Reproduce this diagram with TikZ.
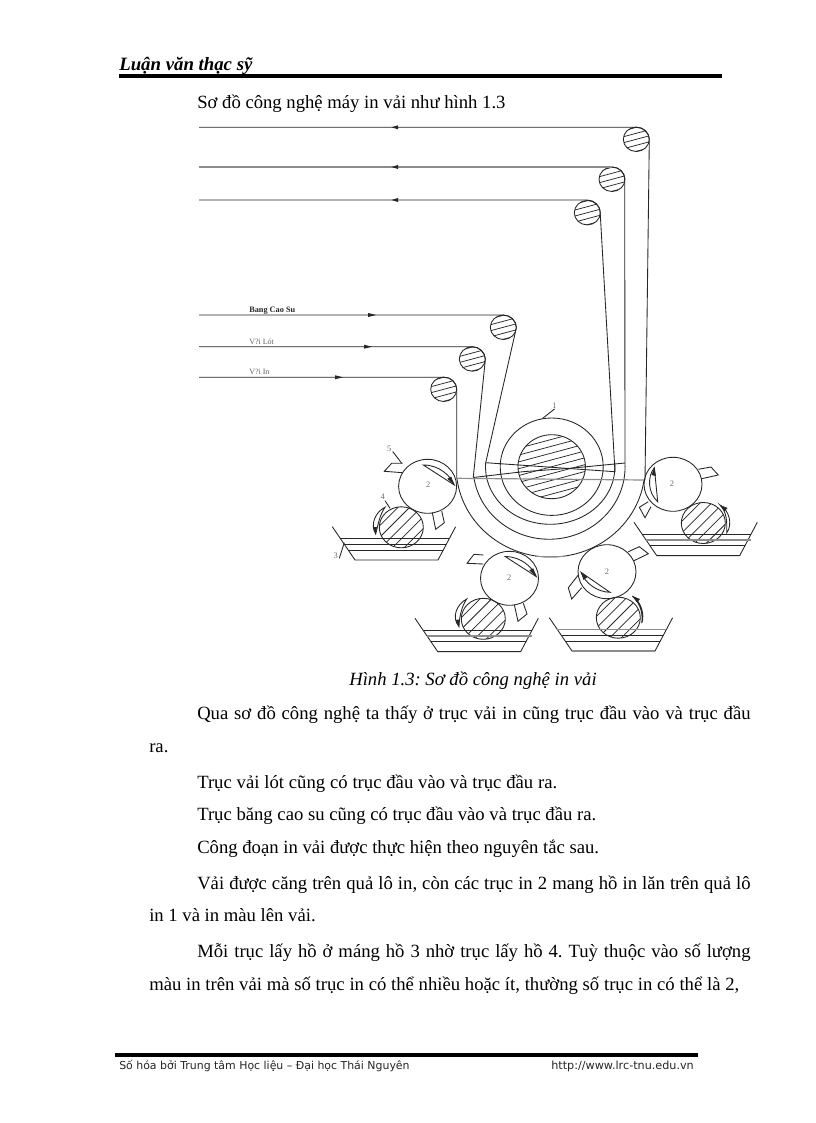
\documentclass[tikz,border=0pt]{standalone}
\usepackage{fontspec}
\setmainfont{Liberation Serif}
\newfontfamily\footfont{DejaVu Sans}
\usetikzlibrary{arrows.meta}
\definecolor{ink}{gray}{0.15}
\definecolor{soft}{gray}{0.55}
\tikzset{
  line/.style={draw=ink,line width=0.65pt},
  softline/.style={draw=soft,line width=0.9pt},
  hatch/.style={draw=ink,line width=0.55pt},
  body/.style={anchor=base west,inner sep=0pt,font=\fontsize{14pt}{16pt}\selectfont,text=black},
  tiny/.style={anchor=base,inner sep=0pt,font=\fontsize{6.3pt}{7pt}\selectfont,text=soft!70!ink},
  wee/.style={anchor=base west,inner sep=0pt,font=\fontsize{6pt}{7pt}\selectfont,text=soft!60!ink},
  foot/.style={anchor=base west,inner sep=0pt,font=\footfont\fontsize{8.2pt}{9pt}\selectfont,text=ink},
  tipfill/.style={fill=ink,draw=none},
}
% hatched ellipse: x,y,rx,ry,angle,spacing
\newcommand{\hroll}[6]{%
  \begin{scope}
    \clip (#1,#2) ellipse [x radius=#3,y radius=#4];
    \foreach \k in {-7,...,7}{
      \draw[hatch,shift={(#1,#2)},rotate=#5] (-80,\k*#6) -- (80,\k*#6);
    }
  \end{scope}
  \draw[line] (#1,#2) ellipse [x radius=#3,y radius=#4];
}
\newcommand{\wedgeL}[2]{\fill[tipfill] (#1-3.5,#2) -- (#1+3,#2-2) -- (#1+3,#2+2) -- cycle;}
\newcommand{\wedgeR}[2]{\fill[tipfill] (#1+4,#2) -- (#1-4,#2-2) -- (#1-4,#2+2) -- cycle;}
\frenchspacing
\begin{document}
\begin{tikzpicture}[x=0.75pt,y=-0.75pt]
\useasboundingbox (0,0) rectangle (816,1123);
\fill[white] (0,0) rectangle (816,1123);

% header
\node[body,font=\fontsize{14.1pt}{16pt}\selectfont\bfseries\itshape] (title) at (119,71) {Luận văn thạc sỹ};
\draw[line width=2.3pt,black] (119,76) -- (722,76);
\node[body] (intro) at (197,109) {Sơ đồ công nghệ máy in vải như hình 1.3};

% top three rollers
\hroll{636.3}{139.3}{13}{12.2}{15}{5.8}
\hroll{612}{179.3}{13}{12.2}{15}{5.8}
\hroll{587.3}{212.7}{13}{12.2}{15}{5.8}
\draw[line] (199,127.3) -- (636,127.3) .. controls (643,127.3) and (649,132) .. (649.3,140) -- (645,480);
\draw[softline] (199,167) -- (612,167);
\draw[line] (612,167) .. controls (619,167) and (624.5,172) .. (624.7,180) -- (625,463);
\draw[line] (199,200) -- (587,200) .. controls (594,200) and (600,205) .. (600.2,213) -- (615,472);
\wedgeL{395}{127.3}\wedgeL{395}{167}\wedgeL{395}{200}

% three incoming rollers
\hroll{503.3}{327.3}{13}{12.2}{15}{5.8}
\hroll{472.3}{359}{13}{12.2}{15}{5.8}
\hroll{443.7}{389.3}{13}{12.2}{15}{5.8}
\draw[line] (199,315) -- (503,315) .. controls (510,315) and (516,320) .. (516.3,328) -- (485.7,462.7);
\draw[line] (199,346.7) -- (472,346.7) .. controls (479,346.7) and (485,352) .. (485.3,360) -- (473.3,477);
\draw[line] (199,377.3) -- (444,377.3) .. controls (451,377.3) and (456.5,382) .. (456.7,390) -- (456.7,478.3);
\wedgeR{372}{315}\wedgeR{368}{346.7}\wedgeR{339}{377.3}
\node[wee,font=\fontsize{6.2pt}{7pt}\selectfont\bfseries,text=ink] (lblbelt) at (249,312.5) {Bang Cao Su};
\node[wee] (lbllot) at (249,344) {V?i Lót};
\node[wee] (lblin) at (249,374.5) {V?i In};

% main drum
\draw[line] (551.7,466.7) ellipse [x radius=51.5,y radius=48.7];
\hroll{551.7}{466.7}{33.7}{32}{15}{6.6}

% wrap arcs
\draw[line] (485.7,462.7) arc [start angle=184.3,end angle=-5,x radius=64.7,y radius=57.3];
\draw[line] (473.8,477) arc [start angle=172,end angle=-3,x radius=76,y radius=72.3];
\draw[line] (456.9,478.3) arc [start angle=173,end angle=8,x radius=94.4,y radius=89.7];
\draw[softline] (535,556.7) -- (565,556.7);

% cross lines
\draw[line] (485.7,462.7) -- (615,471.7);
\draw[line] (473.3,477.5) -- (523,471.7) -- (570,468.3) -- (625,463);
\draw[softline] (456.7,478.3) -- (645,480);

% print rollers
\draw[line] (427.6,486.3) ellipse [x radius=29,y radius=27];
\draw[line] (509.5,578.3) ellipse [x radius=29,y radius=27];
\draw[line] (607,571.7) ellipse [x radius=29,y radius=27];
\draw[line] (673,484.3) ellipse [x radius=29,y radius=27];

% paste rollers
\hroll{401.3}{527.3}{22}{20.5}{45}{8.2}
\hroll{483.3}{618.8}{22}{20.5}{45}{8.2}
\hroll{618.3}{617.7}{22}{20.5}{45}{8.2}
\hroll{703.3}{523}{22}{20.5}{45}{8.2}

% blades left roller
\draw[line] (402.7,463.3) -- (391.7,463.3) -- (384.3,471.3) -- (402.7,472.7);
\draw[line] (432.3,512.7) -- (435.7,529.3) -- (444.3,522.7) -- (441.7,511);
% blades bottom-left roller
\draw[line] (483.3,555) -- (474,554.3) -- (467,563.3) -- (483.3,564);
\draw[line] (514.3,604.7) -- (518,621.3) -- (527,614) -- (523.3,603.3);
% blades bottom-right roller
\draw[line] (628.3,551.7) -- (639.3,546.7) -- (648.3,553.7) -- (634,560.7);
\draw[line] (578.3,575) -- (568.3,587.7) -- (571.7,599) -- (581.7,587.7);
% blades right roller
\draw[line] (698.3,469.3) -- (711,467) -- (718.3,475) -- (701.7,478.7);
\draw[line] (648.3,501.7) -- (639.3,507.3) -- (645,517.7) -- (651,506.7);

% crescent arrows on print rollers
\newcommand{\crescR}[2]{%
  \draw[line] (#1-4,#2-21.7) .. controls (#1+12,#2-22) and (#1+24,#2-10) .. (#1+27,#2-1.7) -- cycle;
  \fill[tipfill] (#1+27,#2-1.7) -- (#1+20,#2-8) -- (#1+24,#2-10) -- cycle;}
\crescR{427.3}{486.7}
\crescR{509.3}{578.3}
\draw[line] (654.3,467.7) .. controls (647,477) and (648,493) .. (657.7,501.7) -- cycle;
\fill[tipfill] (654.3,467.7) -- (651.5,475) -- (656,476) -- cycle;
\draw[line] (581,572.3) .. controls (585,583) and (597,592) .. (610,592.3) -- cycle;
\fill[tipfill] (581,572.3) -- (583.5,580) -- (587.5,577) -- cycle;

% crescent arrows on paste rollers
\draw[line] (385,507.3) .. controls (375,512) and (370,525) .. (375.7,534) .. controls (378,525) and (380,514) .. (385,507.3) -- cycle;
\fill[tipfill] (375.7,534) -- (372.8,527) -- (377,527) -- cycle;
\draw[line] (466.7,599) .. controls (457,604) and (451,617) .. (459,626.7) .. controls (459,620) and (461,607) .. (466.7,599) -- cycle;
\fill[tipfill] (459,626.7) -- (455.3,620) -- (459.5,619.5) -- cycle;
\draw[line] (632.3,596) .. controls (641,601) and (645,615) .. (641.7,623.3) .. controls (643,614) and (641,604) .. (632.3,596) -- cycle;
\fill[tipfill] (632.3,596) -- (640,599) -- (637,602.5) -- cycle;
\draw[line] (720,505) .. controls (729,510) and (733,524) .. (726.7,533) .. controls (727,522) and (727,512) .. (720,505) -- cycle;
\fill[tipfill] (720,505) -- (727.5,508) -- (724.5,511.5) -- cycle;

% trays: left x, top y
\newcommand{\tray}[2]{%
  \draw[line] (#1,#2) -- (#1+22.7,#2+33.3) -- (#1+105.7,#2+33.3) -- (#1+123.3,#2);
  \draw[line] (#1+8,#2+11.7) -- (#1+117.1,#2+11.7);
  \draw[line] (#1+12,#2+17.7) -- (#1+113.9,#2+17.7);
  \draw[line] (#1+16,#2+23.3) -- (#1+111,#2+23.3);
}
\tray{332.3}{526.7}
\tray{415}{618.3}
\tray{549.3}{617.7}
\tray{634}{522.3}
% grey tray levels
\draw[softline] (427,636) -- (532,636);
\draw[softline] (557.3,629.4) -- (666.4,629.4);
\draw[softline] (572,651) -- (655,651);
\draw[softline] (646,540) -- (751,540);

% numbers and leaders
\node[tiny] (n1) at (554.5,408) {1};
\coordinate (l1a) at (554.5,409);
\coordinate (l1b) at (542.7,418.3);
\draw[line] (l1a) -- (l1b);
\node[tiny] (n5) at (389.3,451) {5};
\coordinate (l5a) at (392.7,451.5);
\coordinate (l5b) at (401.7,463.3);
\draw[line] (l5a) -- (l5b);
\node[tiny] (n4) at (382.7,499) {4};
\coordinate (l4a) at (385,500.7);
\coordinate (l4b) at (390,508.3);
\draw[line] (l4a) -- (l4b);
\node[tiny] (n3) at (335.7,558.5) {3};
\coordinate (l3a) at (339.3,558.3);
\coordinate (l3b) at (344.3,542.7);
\draw[line] (l3a) -- (l3b);
\node[tiny] (n2a) at (428.3,487) {2};
\node[tiny] (n2b) at (509.3,580.3) {2};
\node[tiny] (n2c) at (607,574) {2};
\node[tiny] (n2d) at (672,486.7) {2};

% caption and body
\node[body,font=\fontsize{14pt}{16pt}\selectfont\itshape] (cap) at (349,685) {Hình 1.3: Sơ đồ công nghệ in vải};
\node[body] (p1) at (197,719.5) {\makebox[415pt][s]{Qua sơ đồ công nghệ ta thấy ở trục vải in cũng trục đầu vào và trục đầu}};
\node[body] (p1b) at (149,752.5) {ra.};
\node[body] (p2) at (197,788.5) {\makebox[270pt][s]{Trục vải lót cũng có trục đầu vào và trục đầu ra.}};
\node[body] (p3) at (197,820.5) {Trục băng cao su cũng có trục đầu vào và trục đầu ra.};
\node[body] (p4) at (197,853.5) {Công đoạn in vải được thực hiện theo nguyên tắc sau.};
\node[body] (p5) at (197,889.5) {\makebox[415pt][s]{Vải được căng trên quả lô in, còn các trục in 2 mang hồ in lăn trên quả lô}};
\node[body] (p5b) at (149,921.5) {in 1 và in màu lên vải.};
\node[body] (p6) at (197,957.5) {\makebox[415pt][s]{Mỗi trục lấy hồ ở máng hồ 3 nhờ trục lấy hồ 4. Tuỳ thuộc vào số lượng}};
\node[body] (p6b) at (149,990.5) {\makebox[442.5pt][s]{màu in trên vải mà số trục in có thể nhiều hoặc ít, thường số trục in có thể là 2,}};

% footer
\draw[line width=2.3pt,black] (115,1055) -- (698,1055);
\node[foot] (fl) at (119,1069) {Số hóa bởi Trung tâm Học liệu – Đại học Thái Nguyên};
\node[foot,font=\footfont\fontsize{8.4pt}{9pt}\selectfont] (fr) at (551,1069) {http://www.lrc-tnu.edu.vn};
\end{tikzpicture}
\end{document}
